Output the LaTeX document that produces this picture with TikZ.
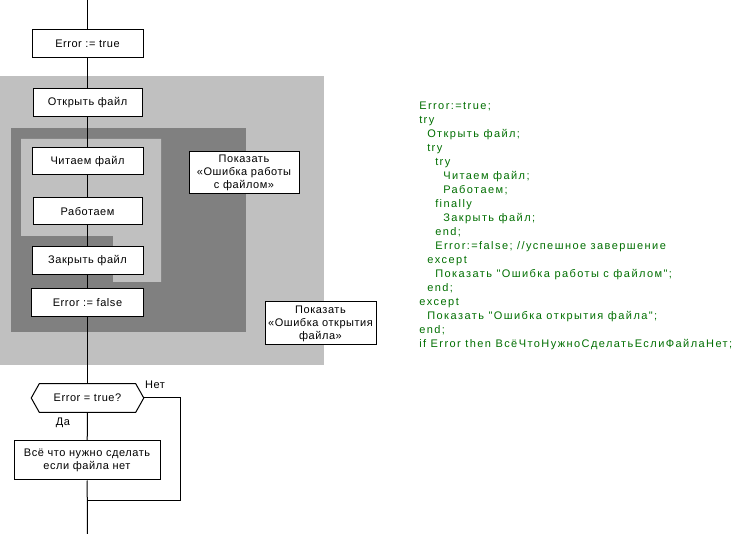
\documentclass[tikz,border=0pt]{standalone}
\usepackage{fontspec}
\newfontfamily\boxfont[LetterSpace=5]{Liberation Sans}
\newfontfamily\codefont[LetterSpace=13]{Liberation Sans}
\definecolor{lg}{RGB}{192,192,192}
\definecolor{dg}{RGB}{128,128,128}
\definecolor{codegreen}{RGB}{0,110,0}
\begin{document}
\begin{tikzpicture}[x=0.75pt,y=-0.75pt,
  box/.style={draw,fill=white,inner sep=0pt,align=center,line width=0.75pt,
    font=\boxfont\fontsize{8.25pt}{9.75pt}\selectfont},
  lbl/.style={inner sep=0pt,font=\boxfont\fontsize{8.25pt}{9.75pt}\selectfont},
  code/.style={anchor=base west,inner sep=0pt,text=codegreen,
    font=\codefont\fontsize{8.25pt}{10pt}\selectfont},
  flow/.style={line width=0.75pt}]
\useasboundingbox (0,0) rectangle (743,534);
% regions
\fill[lg] (0,76) rectangle (324,365);
\fill[dg] (11,128) rectangle (246,332);
\fill[lg] (21,139) -- (161,139) -- (161,282) -- (113,282) -- (113,236) -- (21,236) -- cycle;
% boxes
\node[box,minimum width=83.25pt,minimum height=21pt] (e1) at (87.5,44) {Error := true};
\node[box,minimum width=81.75pt,minimum height=21pt] (open) at (87.5,103) {Открыть файл};
\node[box,minimum width=83.25pt,minimum height=20.25pt] (read) at (87.5,161.5) {Читаем файл};
\node[box,minimum width=81.75pt,minimum height=20.25pt] (work) at (87.5,211.5) {Работаем};
\node[box,minimum width=83.25pt,minimum height=21pt] (close) at (87.5,261) {Закрыть файл};
\node[box,minimum width=84pt,minimum height=21pt] (efalse) at (87.5,303) {Error := false};
\node[box,minimum width=82.5pt,minimum height=31.5pt] (errwork) at (244,173) {Показать\\«Ошибка работы\\с файлом»};
\node[box,minimum width=83.25pt,minimum height=32.25pt] (erropen) at (320.5,323.5) {Показать\\«Ошибка открытия\\файла»};
\node[lbl,minimum width=84pt,minimum height=21pt] (dec) at (87.5,398) {Error = true?};
\draw[flow,fill=white] (dec.west) -- ([xshift=6pt]dec.north west) -- ([xshift=-6pt]dec.north east)
  -- (dec.east) -- ([xshift=-6pt]dec.south east) -- ([xshift=6pt]dec.south west) -- cycle;
\node[lbl] at (dec) {Error = true?};
\node[box,minimum width=109.5pt,minimum height=29.25pt] (all) at (87,460.5) {Всё что нужно сделать\\если файла нет};
\node[lbl] (no) at (155,385) {Нет};
\node[lbl] (yes) at (63,423) {Да};
% connectors
\coordinate (top) at (87.5,0);
\coordinate (bot) at (87.5,534);
\coordinate (nr) at (180,398);
\coordinate (nb) at (180,501);
\coordinate (join) at (87.5,501);
\draw[flow] (top) -- (e1) -- (open) -- (read) -- (work) -- (close) -- (efalse) -- (dec.north);
\draw[flow] (dec.south) -- (all) -- (bot);
\draw[flow] (dec.east) -- (nr) -- (nb) -- (join);
% code
\node[code] (c1) at (419,110) {Error:=true;};
\node[code] (c2) at (419,124) {try};
\node[code] (c3) at (427,138) {Открыть файл;};
\node[code] (c4) at (427,152) {try};
\node[code] (c5) at (435,166) {try};
\node[code] (c6) at (443,180) {Читаем файл;};
\node[code] (c7) at (443,194) {Работаем;};
\node[code] (c8) at (435,208) {finally};
\node[code] (c9) at (443,222) {Закрыть файл;};
\node[code] (c10) at (435,236) {end;};
\node[code] (c11) at (435,250) {Error:=false; //успешное завершение};
\node[code] (c12) at (427,264) {except};
\node[code] (c13) at (435,278) {Показать "Ошибка работы с файлом";};
\node[code] (c14) at (427,292) {end;};
\node[code] (c15) at (419,306) {except};
\node[code] (c16) at (427,320) {Показать "Ошибка открытия файла";};
\node[code] (c17) at (419,334) {end;};
\node[code] (c18) at (419,348) {if Error then ВсёЧтоНужноСделатьЕслиФайлаНет;};
\end{tikzpicture}
\end{document}
